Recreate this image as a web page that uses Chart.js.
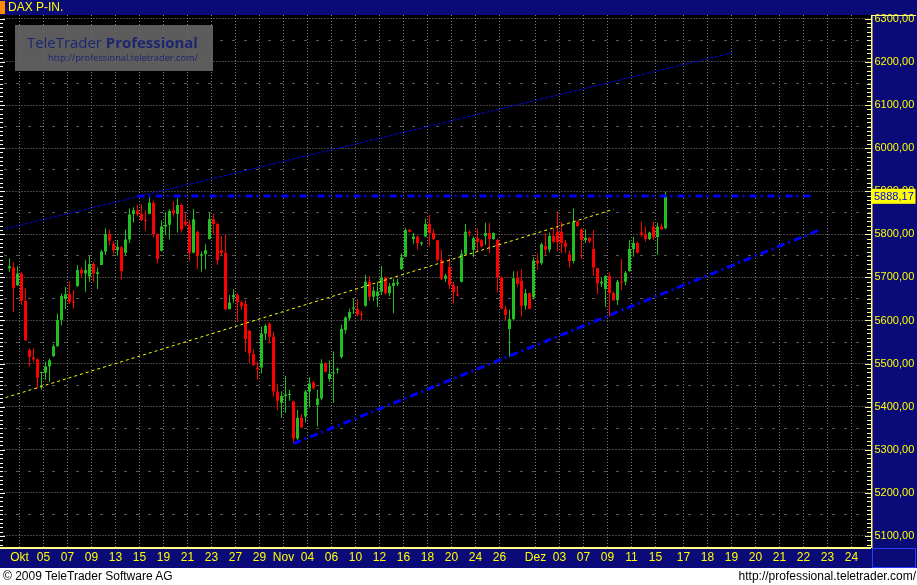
<!DOCTYPE html>
<html>
<head>
<meta charset="utf-8">
<title>DAX P-IN.</title>
<script src="https://cdn.jsdelivr.net/npm/chart.js@4/dist/chart.umd.min.js"></script>
<style>
  html, body { margin: 0; padding: 0; background: #fff; }
  #wrap { position: relative; width: 917px; height: 585px; overflow: hidden; }
  #chart { position: absolute; left: 0; top: 0; }
  .txt { position: absolute; font-family: "Liberation Sans", Arial, sans-serif; font-size: 12px; line-height: 14px; white-space: nowrap; }
  #title { left: 8px; top: 0; color: #ffff00; line-height: 15px; }
  #copy { left: 3px; top: 569px; color: #000; }
  #url { right: 1px; top: 569px; color: #000; }
</style>
</head>
<body>
<div id="wrap">
  <canvas id="chart" width="917" height="585"></canvas>
  <div class="txt" id="title">DAX P-IN.</div>
  <div class="txt" id="copy">© 2009 TeleTrader Software AG</div>
  <div class="txt" id="url">http://professional.teletrader.com/</div>
</div>
<script>
// DAX, 3 Kerzen pro Handelstag (30.09. - 15.12.2009)
const opens = [5721,5723,5682,5709,5645,5531,5514,5510,5478,5479,5493,5517,5540,5601,5650,5661,5643,5680,5717,5709,
  5702,5731,5708,5729,5760,5801,5777,5763,5770,5757,5788,5847,5855,5847,5833,5847,5873,5801,5762,5818,
  5822,5856,5847,5868,5829,5822,5757,5806,5750,5754,5789,5835,5824,5763,5757,5626,5654,5659,5642,5638,
  5576,5522,5491,5491,5569,5592,5562,5435,5409,5425,5427,5412,5326,5374,5377,5435,5456,5404,5419,5501,
  5464,5477,5485,5515,5578,5605,5627,5627,5614,5634,5690,5655,5657,5667,5700,5663,5680,5685,5719,5748,
  5810,5789,5795,5778,5795,5824,5803,5786,5741,5697,5724,5683,5661,5690,5755,5806,5764,5791,5786,5796,
  5803,5789,5787,5700,5626,5580,5603,5700,5692,5634,5663,5654,5739,5733,5773,5764,5796,5806,5806,5780,
  5754,5738,5829,5812,5787,5792,5766,5722,5686,5673,5703,5664,5647,5690,5690,5715,5766,5780,5804,5800,
  5789,5818,5794,5818,5814];
const highs = [5744,5736,5726,5712,5674,5535,5535,5512,5481,5504,5512,5545,5616,5663,5677,5691,5671,5729,5723,5740,
  5750,5736,5723,5764,5814,5811,5785,5787,5773,5811,5860,5863,5868,5870,5855,5890,5878,5802,5832,5852,
  5859,5876,5883,5872,5849,5833,5859,5808,5760,5777,5850,5847,5827,5796,5800,5659,5672,5663,5646,5647,
  5578,5532,5504,5586,5591,5597,5574,5453,5436,5471,5439,5414,5392,5383,5439,5468,5460,5439,5510,5503,
  5507,5528,5491,5590,5610,5627,5650,5650,5622,5706,5703,5679,5690,5727,5702,5687,5697,5697,5756,5814,
  5813,5803,5797,5783,5837,5845,5812,5786,5764,5708,5745,5690,5680,5764,5824,5809,5795,5814,5789,5827,
  5827,5805,5789,5702,5634,5625,5714,5714,5719,5673,5665,5747,5755,5781,5803,5804,5814,5853,5829,5787,
  5762,5860,5832,5814,5812,5794,5810,5722,5700,5705,5713,5667,5694,5743,5715,5787,5794,5783,5829,5819,
  5806,5829,5827,5825,5899];
const lows = [5713,5620,5680,5636,5553,5493,5504,5442,5440,5462,5458,5516,5539,5589,5626,5638,5628,5678,5698,5667,
  5690,5690,5673,5729,5752,5775,5754,5750,5695,5752,5780,5827,5842,5831,5808,5847,5794,5732,5760,5798,
  5788,5841,5804,5804,5818,5739,5756,5719,5713,5719,5788,5802,5729,5750,5624,5626,5641,5597,5624,5527,
  5502,5494,5462,5477,5555,5547,5423,5392,5374,5386,5414,5315,5323,5350,5363,5398,5440,5354,5415,5480,
  5458,5409,5477,5512,5569,5600,5615,5610,5601,5632,5646,5645,5632,5659,5660,5656,5617,5680,5717,5747,
  5805,5778,5764,5773,5793,5772,5787,5737,5694,5690,5673,5640,5656,5688,5752,5795,5747,5760,5770,5776,
  5756,5787,5665,5626,5600,5516,5601,5677,5609,5625,5626,5649,5717,5729,5752,5758,5779,5760,5756,5757,
  5723,5732,5818,5743,5780,5780,5704,5661,5678,5632,5609,5646,5636,5671,5682,5713,5748,5756,5794,5783,
  5787,5787,5752,5810,5812];
const closes = [5726,5676,5709,5646,5554,5516,5510,5467,5479,5493,5508,5540,5601,5657,5661,5643,5641,5717,5709,5717,
  5731,5709,5712,5760,5801,5785,5763,5771,5715,5788,5846,5856,5847,5833,5831,5873,5801,5743,5818,5822,
  5854,5849,5868,5811,5822,5757,5835,5750,5754,5763,5835,5824,5740,5757,5626,5642,5659,5643,5633,5557,
  5524,5497,5487,5570,5588,5562,5435,5414,5425,5428,5428,5326,5374,5352,5435,5454,5443,5419,5501,5481,
  5476,5479,5487,5580,5607,5620,5630,5614,5613,5690,5655,5669,5667,5700,5663,5680,5687,5688,5747,5810,
  5806,5795,5779,5781,5824,5803,5789,5741,5697,5704,5683,5666,5658,5755,5806,5803,5791,5783,5772,5803,
  5789,5803,5700,5628,5613,5603,5698,5685,5634,5663,5627,5739,5733,5777,5764,5796,5783,5781,5780,5771,
  5738,5829,5819,5787,5792,5784,5723,5686,5690,5703,5664,5647,5690,5688,5711,5766,5780,5757,5800,5789,
  5804,5793,5818,5812,5888.17];

// Achse: 4 px pro Slot, erste Kerze in Slot 1
const totalSlots = 217;
const firstSlot = 1;
const tickLabels = ['Okt','05','07','09','13','15','19','21','23','27','29','Nov','04','06','10','12','16','18','20','24','26',
  'Dez','03','07','09','11','15','17','18','19','20','21','22','23','24'];
const tickSlots = [4,10,16,22,28,34,40,46,52,58,64,70,76,82,88,94,100,106,112,118,124,
  133,139,145,151,157,163,170,176,182,188,194,200,206,212];
const yTicks = [5100,5200,5300,5400,5500,5600,5700,5800,5900,6000,6100,6200,6300];
const yHalfTicks = [5150,5250,5350,5450,5550,5650,5750,5850,5950,6050,6150,6250];

// Trendlinien: [slot, kurs]
const upperChannel = [[0, 5813], [182, 6222]];
const resistance = [[33, 5889], [202, 5889]];
const midChannel = [[0, 5421], [152, 5858]];
const supportLine = [[72, 5314], [204, 5812]];

const FONT = '"Liberation Sans", Arial, sans-serif';
const NAVY = '#0a0a78';
const UP = '#20c020';
const DOWN = '#ff0000';

const slotLabels = Array(totalSlots).fill('');
tickSlots.forEach((s, j) => { slotLabels[s] = tickLabels[j]; });

function slotArray(fill) {
    return Array(totalSlots).fill(fill);
}

const wickData = slotArray(null);
const bodyData = slotArray(null);
const candleColors = slotArray('rgba(0,0,0,0)');
opens.forEach((o, i) => {
    const s = firstSlot + i;
    wickData[s] = [lows[i], highs[i]];
    bodyData[s] = [o, closes[i]];
    candleColors[s] = closes[i] >= o ? UP : DOWN;
});

function lineData(points) {
    const arr = slotArray(null);
    points.forEach(([s, v]) => { arr[s] = v; });
    return arr;
}

function lineSet(points, color, width, dash) {
    return {
        type: 'line', data: lineData(points), borderColor: color, borderWidth: width,
        borderDash: dash, pointRadius: 0, spanGaps: true, tension: 0, order: 0
    };
}

const frame = {
    id: 'frame',
    beforeDraw(chart) {
        const { ctx, chartArea: a, width, height } = chart;
        ctx.save();
        ctx.fillStyle = '#fff';
        ctx.fillRect(0, 0, width, height);
        ctx.fillStyle = NAVY;
        ctx.fillRect(0, 0, width, 15);
        ctx.fillStyle = '#ff8c00';
        ctx.fillRect(0, 1, 5, 13);
        ctx.fillStyle = '#000';
        ctx.fillRect(0, 15, 871, a.bottom - 15);
        ctx.fillStyle = NAVY;
        ctx.fillRect(0, a.bottom, width, 568 - a.bottom);
        ctx.fillRect(871, 15, width - 871, 568 - 15);
        ctx.restore();
    },
    beforeDatasetsDraw(chart) {
        // Wasserzeichen oben links
        const ctx = chart.ctx;
        ctx.save();
        ctx.fillStyle = 'rgba(100,100,100,0.92)';
        ctx.fillRect(15, 25, 198, 46);
        ctx.fillStyle = '#1c2670';
        ctx.textBaseline = 'alphabetic';
        ctx.font = '18px "Open Sans"';
        const w1 = ctx.measureText('TeleTrader ').width;
        ctx.font = 'bold 18px "Open Sans"';
        const w2 = ctx.measureText('Professional').width;
        const size = 18 * 171 / (w1 + w2);
        ctx.font = size + 'px "Open Sans"';
        ctx.fillText('TeleTrader ', 27, 48);
        const w3 = ctx.measureText('TeleTrader ').width;
        ctx.font = 'bold ' + size + 'px "Open Sans"';
        ctx.fillText('Professional', 27 + w3, 48);
        ctx.font = '10px "Open Sans"';
        const wu = ctx.measureText('http://professional.teletrader.com/').width;
        ctx.font = (10 * 150 / wu) + 'px "Open Sans"';
        ctx.fillText('http://professional.teletrader.com/', 48, 61);
        ctx.restore();
    },
    afterDraw(chart) {
        const { ctx, chartArea: a, scales } = chart;
        const y = scales.y;
        ctx.save();
        // kleine Skalenstriche links (weiss) und rechts (gelb)
        for (let v = 5080; v <= 6300; v += 10) {
            const py = Math.round(y.getPixelForValue(v)) + 0.5;
            const major = v % 100 === 0;
            ctx.strokeStyle = '#ffffff';
            ctx.beginPath();
            ctx.moveTo(0, py); ctx.lineTo(major ? 5 : 3, py);
            ctx.stroke();
            ctx.strokeStyle = '#ffffa0';
            ctx.beginPath();
            ctx.moveTo(major ? 865 : 867, py); ctx.lineTo(871, py);
            ctx.stroke();
        }
        ctx.fillStyle = '#ffff80';
        ctx.fillRect(0, a.bottom - 1, 871, 2);
        ctx.fillRect(871, 15, 1.5, a.bottom - 15);
        ctx.fillRect(871, 15, 45, 1);
        ctx.strokeStyle = '#2a3cff';
        ctx.strokeRect(872.5, a.bottom + 0.5, 43, 19);
        // letzter Kurs
        const last = closes[closes.length - 1];
        const py = y.getPixelForValue(last);
        ctx.fillStyle = '#ffff00';
        ctx.fillRect(871.5, py - 7.5, 44, 15);
        ctx.fillStyle = '#0000ff';
        ctx.font = '11px ' + FONT;
        ctx.textBaseline = 'middle';
        ctx.fillText(last.toFixed(2).replace('.', ','), 874, py + 0.5);
        ctx.restore();
    }
};

new Chart(document.getElementById('chart'), {
    type: 'bar',
    data: {
        labels: slotLabels,
        datasets: [
            lineSet(upperChannel, '#0000ff', 1, [3, 2]),
            lineSet(resistance, '#0000ff', 3, [7, 4, 2, 5]),
            lineSet(midChannel, '#ffff00', 1, [3, 3]),
            lineSet(supportLine, '#0000ff', 3, [8, 4, 2, 4]),
            {
                data: bodyData, backgroundColor: candleColors, barThickness: 3, minBarLength: 1,
                grouped: false, borderWidth: 0, inflateAmount: 0, order: 1
            },
            {
                data: wickData, backgroundColor: candleColors, barThickness: 1,
                grouped: false, borderWidth: 0, inflateAmount: 0, order: 2
            }
        ]
    },
    options: {
        responsive: false,
        animation: false,
        events: [],
        layout: { padding: { top: 15, left: 3.5, right: 0, bottom: 17 } },
        plugins: { legend: { display: false }, tooltip: { enabled: false } },
        scales: {
            x: {
                type: 'category',
                offset: true,
                grid: {
                    offset: true, drawTicks: false, lineWidth: 1,
                    color: c => slotLabels[c.index] ? '#808080' : 'rgba(0,0,0,0)'
                },
                border: { display: false, dash: [1, 2] },
                ticks: {
                    color: '#ffff00', font: { family: FONT, size: 12 }, autoSkip: false,
                    maxRotation: 0, minRotation: 0, padding: 2, labelOffset: -2
                },
                afterFit: s => { s.height = 20; }
            },
            y: {
                position: 'right',
                min: 5072,
                max: 6309,
                afterBuildTicks: s => { s.ticks = yTicks.map(v => ({ value: v })); },
                grid: { color: '#808080', drawTicks: false },
                border: { display: false, dash: [1, 2] },
                ticks: {
                    color: '#ffff00', font: { family: FONT, size: 11 }, padding: 3,
                    callback: v => v.toFixed(2).replace('.', ',')
                },
                afterFit: s => { s.width = 45.5; }
            },
            y2: {
                position: 'left',
                min: 5072,
                max: 6309,
                afterBuildTicks: s => { s.ticks = yHalfTicks.map(v => ({ value: v })); },
                grid: { color: '#5a5a5a', drawTicks: false },
                border: { display: false, dash: [3, 9] },
                ticks: { display: false },
                afterFit: s => { s.width = 0; }
            }
        }
    },
    plugins: [frame]
});
</script>
</body>
</html>
